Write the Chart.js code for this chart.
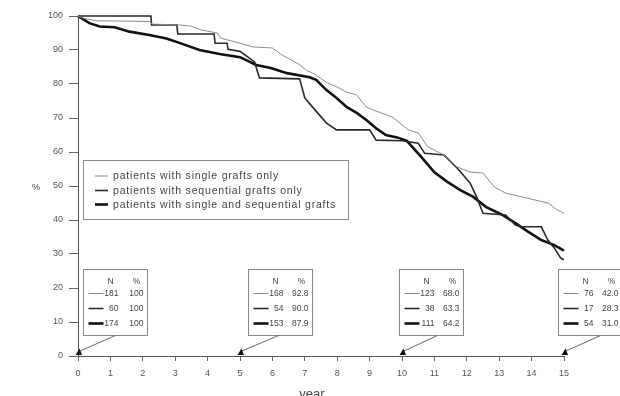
<!DOCTYPE html>
<html>
<head>
<meta charset="utf-8">
<script src="https://cdn.jsdelivr.net/npm/chart.js"></script>
<style>
  html, body { margin: 0; padding: 0; background: #fff; }
</style>
</head>
<body>
<canvas id="myChart" width="620" height="396"></canvas>
<script>
// Setup
const seriesLabels = [
  'patients with single grafts only',
  'patients with sequential grafts only',
  'patients with single and sequential grafts',
];

// single grafts only
const singleYears = [0, 0.15, 0.55, 2.2, 2.3, 3.1, 3.5, 3.8, 4.3, 4.4, 5.0, 5.4, 6.0, 6.3, 6.6, 6.85, 7.05, 7.25, 7.7, 8.0,
  8.3, 8.6, 8.9, 9.1, 9.7, 10.0, 10.2, 10.5, 10.8, 11.3, 11.7, 12.1, 12.5, 12.85, 13.2, 13.7, 14.1, 14.5, 14.8, 15.0];
const singleValues = [100, 99.4, 98.6, 98.4, 97.6, 97.4, 97.0, 95.9, 95.0, 93.5, 92.0, 90.9, 90.6, 88.5, 87.0, 85.6, 84.0, 83.2, 80.3, 79.1,
  77.6, 76.8, 73.2, 72.4, 70.3, 68.0, 66.5, 65.6, 61.5, 59.1, 55.6, 54.1, 53.8, 49.7, 47.9, 46.8, 45.9, 45.0, 42.9, 42.0];

// sequential grafts only
const seqYears = [0, 2.25, 2.27, 3.05, 3.08, 4.2, 4.23, 4.6, 4.63, 5.0, 5.45, 5.6, 6.84, 7.0, 7.24, 7.67, 7.98, 9.0, 9.2, 10.0,
  10.5, 10.7, 11.3, 11.7, 12.1, 12.3, 12.5, 13.2, 13.5, 13.7, 14.3, 14.5, 14.7, 14.9, 15.0];
const seqValues = [100, 100, 97.4, 97.4, 94.7, 94.7, 92.0, 92.0, 90.2, 89.6, 86.5, 81.8, 81.5, 75.9, 73.2, 68.5, 66.5, 66.5, 63.5, 63.3,
  62.6, 59.6, 59.1, 55.3, 50.9, 46.8, 42.0, 41.5, 38.5, 38.0, 38.0, 34.1, 31.8, 28.8, 28.3];

// single and sequential grafts
const bothYears = [0, 0.35, 0.67, 1.13, 1.59, 2.2, 2.73, 3.13, 3.75, 4.37, 5.0, 5.5, 5.95, 6.45, 7.15, 7.35, 7.67, 7.98, 8.3, 8.6,
  8.9, 9.2, 9.5, 9.85, 10.15, 10.6, 11.0, 11.4, 11.8, 12.2, 12.6, 13.1, 13.5, 13.9, 14.3, 14.7, 15.0];
const bothValues = [100, 97.9, 96.9, 96.7, 95.4, 94.4, 93.4, 92.1, 90.0, 88.8, 87.9, 85.6, 84.7, 83.2, 82.0, 81.2, 78.2, 75.9, 73.2, 71.5,
  69.4, 67.0, 65.0, 64.3, 63.3, 58.5, 54.0, 51.2, 48.8, 46.8, 43.8, 41.5, 39.1, 36.5, 34.1, 32.6, 31.0];

// numbers at risk boxes
const boxYears = [0, 5, 10, 15];
const boxN = [[181, 60, 174], [168, 54, 153], [123, 38, 111], [76, 17, 54]];
const boxPct = [['100', '100', '100'], ['92.8', '90.0', '87.9'], ['68.0', '63.3', '64.2'], ['42.0', '28.3', '31.0']];

const toPoints = (xs, ys) => xs.map((x, i) => ({ x: x, y: ys[i] }));

const lineStyles = [
  { color: '#8c8c8c', width: 1 },
  { color: '#2a2a2a', width: 1.6 },
  { color: '#111111', width: 2.6 },
];

const data = {
  datasets: [
    { label: seriesLabels[0], data: toPoints(singleYears, singleValues) },
    { label: seriesLabels[1], data: toPoints(seqYears, seqValues) },
    { label: seriesLabels[2], data: toPoints(bothYears, bothValues) },
  ].map((d, i) => Object.assign(d, {
    borderColor: lineStyles[i].color,
    borderWidth: lineStyles[i].width,
    pointRadius: 0,
    tension: 0,
    fill: false,
    clip: 6,
  }))
};

// legend, at-risk boxes and axis captions
const extras = {
  id: 'extras',
  afterDraw(chart) {
    const ctx = chart.ctx;
    const xs = chart.scales.x;
    const sets = chart.data.datasets;
    ctx.save();

    // legend box
    ctx.strokeStyle = '#888';
    ctx.lineWidth = 1;
    ctx.strokeRect(83.5, 160.5, 265, 59);
    ctx.font = '10.5px "Liberation Sans", Arial, sans-serif';
    ctx.fillStyle = '#444';
    ctx.textBaseline = 'middle';
    // spread the longest label to the width it has in the picture
    ctx.letterSpacing = '0px';
    const longest = ctx.measureText(seriesLabels[2]).width;
    const spacing = Math.max(0, (223 - longest) / seriesLabels[2].length);
    ctx.letterSpacing = spacing.toFixed(2) + 'px';
    const rowsY = [176, 190.5, 204.5];
    sets.forEach((ds, i) => {
      ctx.strokeStyle = ds.borderColor;
      ctx.lineWidth = ds.borderWidth;
      ctx.beginPath();
      ctx.moveTo(95, rowsY[i]);
      ctx.lineTo(108, rowsY[i]);
      ctx.stroke();
      ctx.fillText(ds.label, 113, rowsY[i] + 0.5);
    });
    ctx.letterSpacing = '0px';

    // boxes with N and %
    const boxDx = [4.5, 7.5, -3.5, -6];
    const pointerDx = [32, 30, 38, 42];
    ctx.font = '8.5px "Liberation Sans", Arial, sans-serif';
    boxYears.forEach((yr, b) => {
      const ax = xs.getPixelForValue(yr);
      const left = Math.round(ax + boxDx[b]) + 0.5;
      const top = 269.5;
      ctx.strokeStyle = '#888';
      ctx.lineWidth = 1;
      ctx.strokeRect(left, top, 64, 66);
      ctx.fillStyle = '#444';
      ctx.textAlign = 'center';
      ctx.fillText('N', left + 27, top + 12);
      ctx.fillText('%', left + 53, top + 12);
      for (let r = 0; r < 3; r++) {
        const yy = top + 24 + r * 15;
        ctx.strokeStyle = sets[r].borderColor;
        ctx.lineWidth = sets[r].borderWidth;
        ctx.beginPath();
        ctx.moveTo(left + 5, yy);
        ctx.lineTo(left + 20, yy);
        ctx.stroke();
        ctx.textAlign = 'right';
        ctx.fillText(String(boxN[b][r]), left + 35, yy);
        ctx.fillText(boxPct[b][r], left + 60, yy);
      }
      // pointer to the axis
      ctx.strokeStyle = '#555';
      ctx.lineWidth = 0.9;
      ctx.beginPath();
      ctx.moveTo(left + pointerDx[b], 335.5);
      ctx.lineTo(ax + 2, 351);
      ctx.stroke();
      ctx.fillStyle = '#111';
      ctx.beginPath();
      ctx.moveTo(ax - 2.5, 355);
      ctx.lineTo(ax + 4, 355);
      ctx.lineTo(ax + 1.5, 348.5);
      ctx.closePath();
      ctx.fill();
    });

    // captions
    ctx.fillStyle = '#444';
    ctx.textAlign = 'center';
    ctx.font = '9px "Liberation Sans", Arial, sans-serif';
    ctx.fillText('%', 36, 188);
    ctx.font = '13px "Liberation Sans", Arial, sans-serif';
    ctx.textBaseline = 'alphabetic';
    ctx.fillText('year', 312, 398);
    ctx.restore();
  }
};

const tickFont = { family: '"Liberation Sans", Arial, sans-serif', size: 9 };

// Config
const config = {
  type: 'line',
  data: data,
  options: {
    responsive: false,
    animation: false,
    layout: { padding: { left: 0, top: 16, right: 56, bottom: 0 } },
    plugins: { legend: { display: false }, tooltip: { enabled: false } },
    scales: {
      x: {
        type: 'linear',
        min: 0,
        max: 15,
        ticks: { stepSize: 1, color: '#555', font: tickFont, padding: 7, maxRotation: 0, autoSkip: false },
        grid: { drawOnChartArea: false, drawTicks: true, tickLength: 5, color: '#666' },
        border: { display: true, color: '#555', width: 1 },
        afterFit: (s) => { s.height = 40; }
      },
      y: {
        min: 0,
        max: 100,
        ticks: { stepSize: 10, color: '#555', font: tickFont, padding: 6 },
        grid: { drawOnChartArea: false, drawTicks: true, tickLength: 9, color: '#666' },
        border: { display: true, color: '#555', width: 1 },
        afterFit: (s) => { s.width = 78; }
      }
    }
  },
  plugins: [extras]
};

const myChart = new Chart(
  document.getElementById('myChart'),
  config
);
</script>
</body>
</html>
